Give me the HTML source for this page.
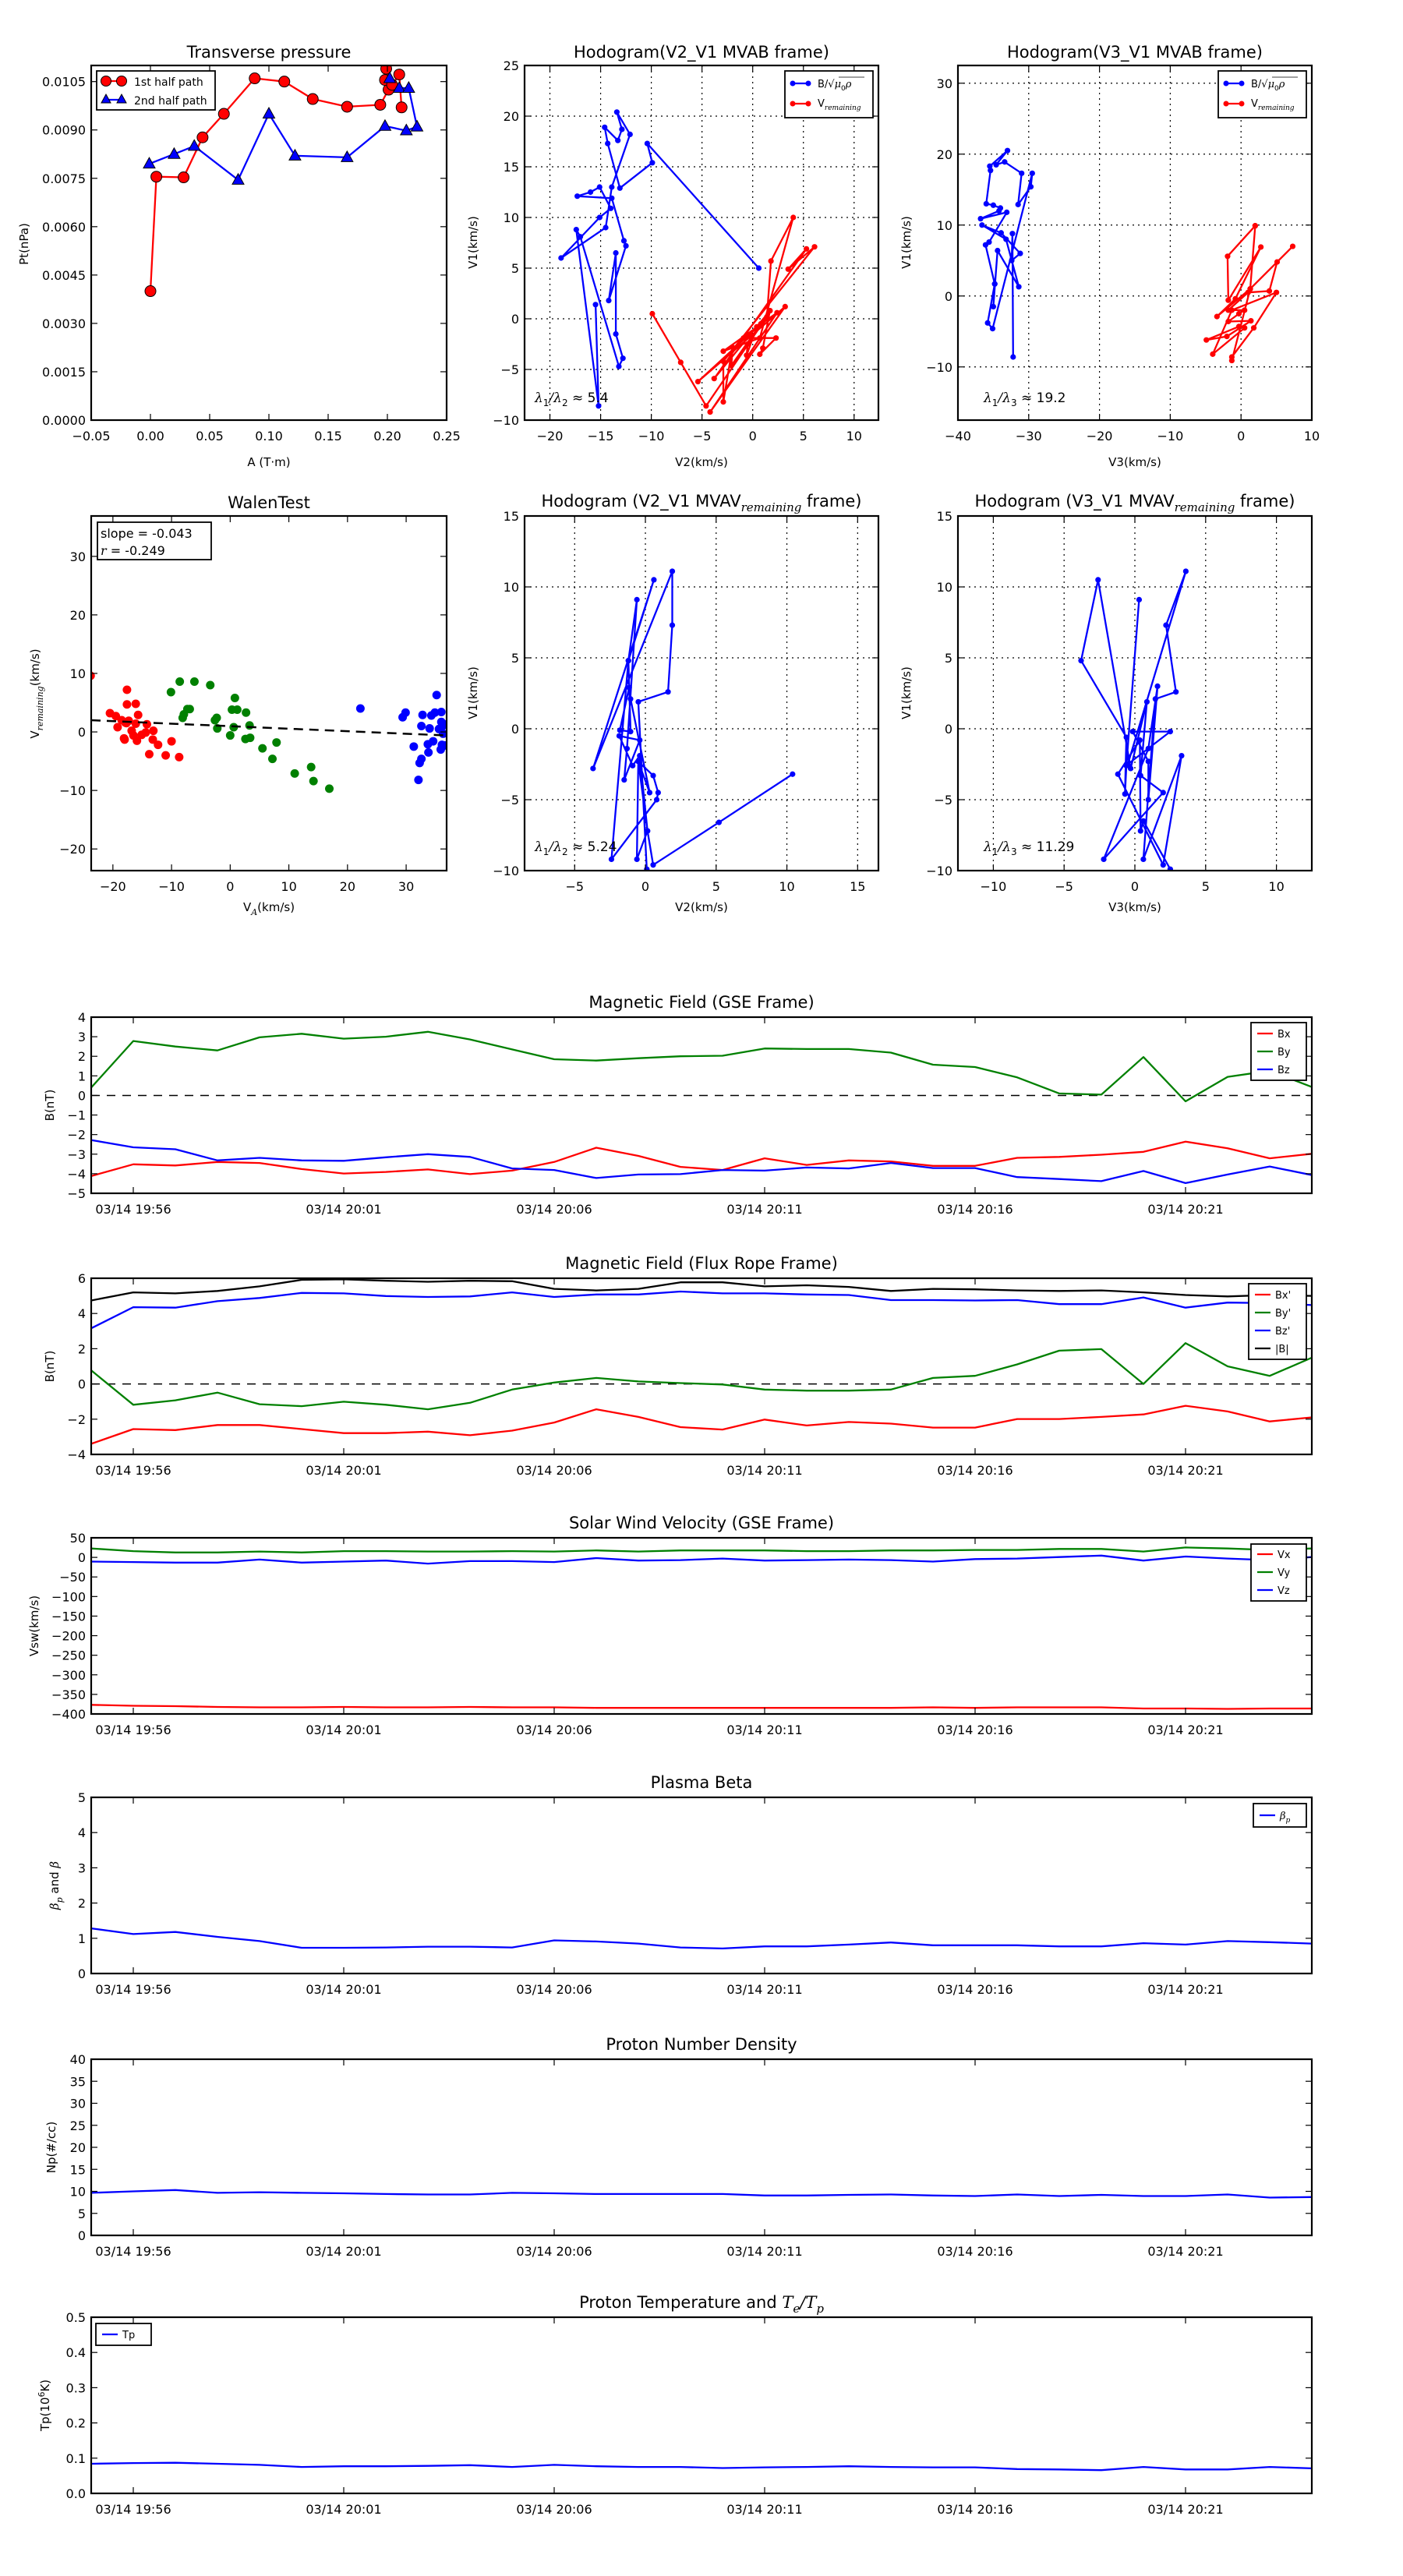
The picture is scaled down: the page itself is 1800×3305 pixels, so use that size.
<!DOCTYPE html>
<html><head><meta charset="utf-8"><style>
html,body{margin:0;padding:0;background:#fff}
svg text{font-family:"DejaVu Sans","Liberation Sans",sans-serif}
</style></head><body>
<svg id="fig" xmlns="http://www.w3.org/2000/svg" width="1800" height="3300" viewBox="0 0 1800 3300">
<rect x="0" y="0" width="1800" height="3300" fill="#fff"/>
</svg>
<script>
// ---------- DATA ----------
const tpA1 = [0,0.005,0.028,0.044,0.062,0.088,0.113,0.137,0.166,0.194,0.201,0.198,0.199,0.204,0.210,0.212];
const tpP1 = [0.0040,0.00755,0.00753,0.00877,0.0095,0.0106,0.0105,0.00996,0.00972,0.00978,0.01025,0.01055,0.0109,0.0104,0.01072,0.0097];
const tpA2 = [0.202,0.210,0.218,0.225,0.216,0.198,0.166,0.122,0.100,0.074,0.037,0.020,-0.001];
const tpP2 = [0.0106,0.0103,0.0103,0.0091,0.00898,0.00912,0.00815,0.0082,0.0095,0.00745,0.0085,0.00825,0.00795];

const h1Bx = [0.6,-10.4,-9.9,-13.1,-14.3,-14.6,-13.3,-12.9,-13.4,-12.1,-13.9,-14.5,-18.9,-15.1,-14.0,-15.1,-16.0,-17.3,-13.9,-12.7,-12.5,-14.2,-13.5,-13.5,-12.8,-13.2,-17.0,-17.4,-15.2,-15.5];
const h1By = [5.0,17.3,15.4,12.9,17.3,18.9,17.6,18.7,20.4,18.2,13.0,9.0,6.0,10.0,10.9,13.0,12.5,12.1,11.9,7.7,7.2,1.8,6.5,-1.5,-3.9,-4.7,8.1,8.8,-8.6,1.4];
const h1Vx = [-9.9,-7.1,-4.6,1.4,1.8,4.0,0.7,-2.9,2.4,-4.2,3.2,-5.4,0.8,-2.1,-2.0,-2.9,-2.9,6.1,3.5,5.3,-3.8,1.7,-0.5,-0.6,0.4,-0.9,2.3,0.7,1.0,1.7];
const h1Vy = [0.5,-4.3,-8.6,0.2,5.7,10.0,-1.9,-3.2,0.6,-9.2,1.2,-6.2,-0.5,-4.6,-2.8,-8.2,-4.2,7.1,4.9,6.9,-5.9,0.8,-2.5,-3.6,-0.8,-1.9,-1.9,-3.5,-2.9,0.8];

const h2Bx = [-32.2,-32.3,-32.4,-31.2,-33.9,-36.6,-33.2,-31.4,-34.4,-35.0,-34.8,-36.1,-35.6,-33.1,-36.8,-34.2,-34.0,-35.0,-36.0,-35.4,-35.5,-33.0,-34.6,-33.4,-31.0,-31.5,-29.7,-29.5,-35.1,-35.8,-34.8];
const h2By = [-8.6,8.8,5.0,6.0,8.9,10.0,8.0,1.3,6.4,-1.5,1.7,7.2,7.6,11.8,10.9,12.0,12.4,12.8,13.0,17.7,18.3,20.5,18.5,18.9,17.3,12.9,15.4,17.3,-4.6,-3.8,1.7];
const h2Vx = [2.0,-1.9,-1.8,2.8,-0.8,-3.4,1.3,7.3,5.1,4.0,1.0,-1.8,0.5,-0.3,-1.8,1.4,-2.0,-4.9,-0.3,0.5,-4.0,-1.3,5.0,1.8,-1.3,-1.3,1.3,2.0];
const h2Vy = [9.9,5.6,-0.6,6.9,-0.4,-2.9,1.0,7.0,4.8,0.7,0.5,-2.0,-2.0,-2.5,-3.6,-3.5,-5.7,-6.2,-4.3,-4.5,-8.2,-2.0,0.5,-4.5,-8.6,-9.1,1.0,9.9];

const wRx = [-23.8,-20.5,-19.5,-19.2,-18.5,-17.9,-17.3,-17.7,-17.6,-17.6,-18.1,-18.0,-16.8,-16.1,-16.1,-15.7,-16.5,-15.9,-15.1,-14.4,-14.2,-13.8,-13.1,-13.2,-12.3,-11.0,-10.0,-8.7];
const wRy = [9.6,3.2,2.7,0.8,2.0,1.6,1.9,1.5,7.2,4.7,-1.1,-1.3,0.2,4.8,1.4,2.9,-0.6,-1.5,-0.5,-0.1,1.3,-3.8,0.2,-1.3,-2.2,-4.0,-1.6,-4.3];
const wGx = [-10.1,-8.6,-8.1,-7.9,-7.3,-6.9,-6.1,-3.4,-2.6,-2.3,-2.2,0.0,0.3,0.6,0.8,1.2,2.6,2.7,3.3,3.4,5.5,7.2,7.9,11.0,13.8,14.2,16.9];
const wGy = [6.8,8.6,2.4,3.0,3.9,3.9,8.6,8.0,2.0,2.4,0.6,-0.6,3.8,0.8,5.8,3.8,-1.2,3.3,1.1,-1.0,-2.8,-4.6,-1.8,-7.1,-6.0,-8.4,-9.7];
const wBx = [22.2,29.4,29.9,31.3,32.1,32.3,32.6,32.6,32.8,33.7,33.8,34.0,34.3,34.6,34.9,35.2,35.6,36.0,36.0,35.9,36.1,36.2,36.3,36.5,36.6];
const wBy = [4.0,2.5,3.3,-2.5,-8.2,-5.3,-4.6,1.0,2.9,-2.1,-3.5,0.6,2.8,-1.6,3.3,6.3,0.5,3.4,1.7,-3.0,-2.2,1.0,-0.3,1.3,-2.3];
const wSlope = -0.043;
const wIntercept = 0.98;

const h3x = [10.4,5.2,0.55,0.15,-0.5,0.3,-1.05,-1.15,-1.8,-1.05,-1.2,-0.6,-1.3,-1.5,-0.4,-1.85,-0.9,-0.4,0.15,-0.6,-0.5,0.55,0.9,0.8,-2.4,-1.2,0.6,-3.7,1.9,1.9,1.6,-0.5,0.1];
const h3y = [-3.2,-6.6,-9.6,-7.2,-2.3,-4.5,2.1,2.9,-0.1,-0.2,4.8,9.1,-1.4,-3.6,-0.8,-0.5,-2.6,-1.9,-7.2,-9.2,-2.3,-3.3,-4.5,-5.0,-9.2,4.8,10.5,-2.8,11.1,7.3,2.6,1.9,-9.9];
const h4x = [0.3,-0.6,-0.7,-0.6,-3.8,-2.6,-0.3,0.85,0.4,2.0,-2.2,0.95,1.6,0.95,0.95,-0.15,2.5,-0.5,3.6,2.2,2.9,1.45,0.6,3.3,2.0,-1.2,0.35,0.4,0.6,2.5];
const h4y = [9.1,-2.6,-4.6,-0.6,4.8,10.5,-2.8,1.9,-3.3,-4.5,-9.2,-1.4,3.0,-5.0,-2.3,-0.2,-0.2,-2.5,11.1,7.3,2.6,2.1,-9.2,-1.9,-9.6,-3.2,-0.8,-7.2,-6.5,-9.9];

const timeTickIdx = [1,6,11,16,21,26];
const timeTickLabels = ['03/14 19:56','03/14 20:01','03/14 20:06','03/14 20:11','03/14 20:16','03/14 20:21'];
const gseBx = [-4.12,-3.52,-3.58,-3.4,-3.45,-3.76,-3.99,-3.91,-3.78,-4.02,-3.84,-3.4,-2.67,-3.09,-3.65,-3.81,-3.21,-3.55,-3.32,-3.37,-3.6,-3.6,-3.19,-3.14,-3.03,-2.88,-2.36,-2.7,-3.21,-2.98];
const gseBy = [0.4,2.78,2.5,2.3,2.97,3.15,2.9,3.0,3.25,2.86,2.35,1.85,1.78,1.9,2.0,2.03,2.4,2.37,2.37,2.19,1.57,1.45,0.92,0.1,0.04,1.96,-0.3,0.95,1.26,0.43];
const gseBz = [-2.28,-2.65,-2.75,-3.32,-3.19,-3.32,-3.34,-3.16,-3.0,-3.14,-3.73,-3.81,-4.22,-4.04,-4.02,-3.81,-3.84,-3.68,-3.73,-3.45,-3.71,-3.71,-4.17,-4.27,-4.38,-3.86,-4.48,-4.04,-3.63,-4.07];
const frBx = [-3.4,-2.56,-2.62,-2.33,-2.33,-2.56,-2.79,-2.79,-2.71,-2.91,-2.65,-2.19,-1.44,-1.87,-2.45,-2.59,-2.02,-2.36,-2.16,-2.25,-2.48,-2.48,-1.99,-1.99,-1.87,-1.73,-1.24,-1.56,-2.13,-1.9];
const frBy = [0.77,-1.18,-0.93,-0.49,-1.15,-1.26,-1.01,-1.18,-1.44,-1.07,-0.32,0.08,0.34,0.14,0.05,-0.03,-0.32,-0.38,-0.38,-0.32,0.34,0.46,1.11,1.89,1.98,0.0,2.32,1.0,0.46,1.49];
const frBz = [3.16,4.36,4.33,4.7,4.88,5.17,5.14,4.99,4.94,4.97,5.2,4.94,5.08,5.08,5.25,5.14,5.14,5.08,5.05,4.76,4.76,4.74,4.76,4.53,4.53,4.91,4.33,4.62,4.59,4.48];
const frBt = [4.74,5.2,5.14,5.28,5.54,5.91,5.94,5.86,5.8,5.86,5.83,5.4,5.31,5.4,5.77,5.77,5.54,5.6,5.51,5.28,5.4,5.37,5.31,5.28,5.31,5.2,5.05,4.97,5.05,5.0];
const vx = [-376.7,-379,-380,-382,-383,-383,-382,-383,-383,-382,-383,-383,-384.5,-384.5,-384.5,-384.5,-384.5,-384.5,-384.5,-384.5,-383,-384.5,-383,-383,-383,-386,-386,-387,-386,-386];
const vy = [22.8,16,12.5,12.5,15,12.5,16,16,15,15,16,15,17.7,15,17.7,17.7,17.7,16,16,17.7,17.7,19,19,21.5,21.5,15,25.4,22.8,19,22.8];
const vz = [-10.8,-12,-13.4,-13.4,-5.6,-13.4,-10.8,-8.2,-16,-9.5,-9.5,-12,-1.7,-8.2,-6.9,-3,-8.2,-6.9,-5.6,-6.9,-10.8,-4.3,-3,0.9,4.7,-8.2,2.2,-3,-6.9,0.9];
const beta = [1.28,1.12,1.18,1.04,0.92,0.73,0.73,0.74,0.76,0.76,0.74,0.94,0.91,0.85,0.74,0.71,0.77,0.77,0.82,0.88,0.8,0.8,0.8,0.77,0.77,0.86,0.82,0.92,0.89,0.85];
const np = [9.67,10.0,10.3,9.67,9.8,9.67,9.55,9.4,9.3,9.3,9.67,9.55,9.4,9.4,9.4,9.4,9.06,9.06,9.2,9.3,9.06,8.94,9.3,8.94,9.2,8.94,8.94,9.3,8.58,8.7];
const tp = [0.084,0.086,0.087,0.084,0.081,0.075,0.077,0.077,0.078,0.08,0.075,0.081,0.077,0.075,0.075,0.072,0.074,0.075,0.077,0.075,0.074,0.074,0.069,0.068,0.066,0.075,0.068,0.068,0.075,0.071];

// ---------- HELPERS ----------
const NS='http://www.w3.org/2000/svg';
const svg=document.getElementById('fig');
let clipN=0;
function mk(tag, attrs, name, parent){
  const el=document.createElementNS(NS,tag);
  for(const k in attrs) el.setAttribute(k,attrs[k]);
  
  
  (parent||svg).appendChild(el);
  return el;
}
function txt(x,y,s,size,name,parent,anchor,extra){
  const a={x:x,y:y,'font-size':size,'text-anchor':anchor||'middle',fill:'#000'};
  if(extra) for(const k in extra) a[k]=extra[k];
  const t=mk('text',a,name,parent);
  t.textContent=s;
  return t;
}
function rich(x,y,parts,size,name,parent,anchor,extra){
  const a={x:x,y:y,'font-size':size,'text-anchor':anchor||'middle',fill:'#000'};
  if(extra) for(const k in extra) a[k]=extra[k];
  const t=mk('text',a,name,parent);
  let cur=0;
  parts.forEach(p=>{
    const ts=document.createElementNS(NS,'tspan');
    let target=0;
    if(p.sub){target=Math.round(size*0.3);ts.setAttribute('font-size',Math.round(size*0.7));}
    if(p.sup){target=-Math.round(size*0.4);ts.setAttribute('font-size',Math.round(size*0.7));}
    if(target!==cur){ts.setAttribute('dy',target-cur);cur=target;}
    if(p.it){ts.setAttribute('font-style','italic');ts.setAttribute('font-family','"DejaVu Serif","Liberation Serif",serif');}
    ts.textContent=p.t;
    t.appendChild(ts);
  });
  return t;
}
function fmtMinus(s){return String(s).replace('-','\u2212');}
function axes(c){
  const g=mk('g',{},c.name);
  const sx=v=>c.x+(v-c.xmin)/(c.xmax-c.xmin)*c.w;
  const sy=v=>c.y+c.h-(v-c.ymin)/(c.ymax-c.ymin)*c.h;
  clipN++;
  const cp=mk('clipPath',{id:'cp'+clipN},'clip-region',g);
  mk('rect',{x:c.x,y:c.y,width:c.w,height:c.h},'clip-rect',cp);
  if(c.grid){
    c.xt.forEach(v=>{mk('line',{x1:sx(v),x2:sx(v),y1:c.y,y2:c.y+c.h,stroke:'#000','stroke-width':1.2,'stroke-dasharray':'2,5'},'x-gridline',g);});
    c.yt.forEach(v=>{mk('line',{x1:c.x,x2:c.x+c.w,y1:sy(v),y2:sy(v),stroke:'#000','stroke-width':1.2,'stroke-dasharray':'2,5'},'y-gridline',g);});
  }
  const data=mk('g',{'clip-path':'url(#cp'+clipN+')'},'plot-area',g);
  const finish=()=>{
    const fg=mk('g',{},'axes-frame-group',g);
    c.xt.forEach((v,i)=>{
      const X=sx(v);
      mk('line',{x1:X,x2:X,y1:c.y+c.h,y2:c.y+c.h-8,stroke:'#000','stroke-width':1.2},'x-tick',fg);
      mk('line',{x1:X,x2:X,y1:c.y,y2:c.y+8,stroke:'#000','stroke-width':1.2},'x-tick',fg);
      txt(X,c.y+c.h+26,c.xl[i],16,'x-tick-label',fg);
    });
    c.yt.forEach((v,i)=>{
      mk('line',{x1:c.x,x2:c.x+8,y1:sy(v),y2:sy(v),stroke:'#000','stroke-width':1.2},'y-tick',fg);
      mk('line',{x1:c.x+c.w,x2:c.x+c.w-8,y1:sy(v),y2:sy(v),stroke:'#000','stroke-width':1.2},'y-tick',fg);
      txt(c.x-7,sy(v)+6,c.yl[i],16,'y-tick-label',fg,'end');
    });
    mk('rect',{x:c.x,y:c.y,width:c.w,height:c.h,fill:'none',stroke:'#000','stroke-width':2.2},'axes-frame',fg);
  };
  return {sx,sy,g,data,finish,c};
}
function path(ax,xs,ys,color,name,w){
  let d='';
  xs.forEach((v,i)=>{d+=(i?'L':'M')+ax.sx(v).toFixed(1)+','+ax.sy(ys[i]).toFixed(1);});
  return mk('path',{d:d,fill:'none',stroke:color,'stroke-width':w||2.3,'stroke-linejoin':'round'},name,ax.data);
}
function dots(ax,xs,ys,color,r,name){
  xs.forEach((v,i)=>{mk('circle',{cx:ax.sx(v),cy:ax.sy(ys[i]),r:r,fill:color},name,ax.data);});
}
function rng(a,b,s){const o=[];for(let v=a;v<=b+1e-9;v+=s)o.push(Math.round(v*1e6)/1e6);return o;}

// ---------- TRANSVERSE PRESSURE ----------
(function(){
  const xt=rng(-0.05,0.25,0.05), yt=rng(0,0.0105,0.0015);
  const ax=axes({name:'transverse-pressure-chart',x:117,y:84,w:456,h:455,xmin:-0.05,xmax:0.25,ymin:0,ymax:0.011,
    xt:xt,yt:yt,xl:xt.map(v=>fmtMinus(v.toFixed(2))),yl:yt.map(v=>v.toFixed(4))});
  path(ax,tpA1,tpP1,'#ff0000','first-half-path-line',2.3);
  path(ax,tpA2,tpP2,'#0000ff','second-half-path-line',2.3);
  tpA1.forEach((v,i)=>{mk('circle',{cx:ax.sx(v),cy:ax.sy(tpP1[i]),r:7,fill:'#ff0000',stroke:'#000','stroke-width':1},'first-half-marker',ax.data);});
  tpA2.forEach((v,i)=>{const X=ax.sx(v),Y=ax.sy(tpP2[i]);mk('polygon',{points:`${X},${Y-8} ${X-7.5},${Y+5.5} ${X+7.5},${Y+5.5}`,fill:'#0000ff',stroke:'#000','stroke-width':1},'second-half-marker',ax.data);});
  ax.finish();
  const lg=mk('g',{},'legend',ax.g);
  mk('rect',{x:124,y:91,width:152,height:50,fill:'#fff',stroke:'#000','stroke-width':1.8},'legend-box',lg);
  mk('line',{x1:136,x2:156,y1:104,y2:104,stroke:'#ff0000','stroke-width':2.3},'legend-line',lg);
  mk('circle',{cx:136,cy:104,r:6.5,fill:'#ff0000',stroke:'#000','stroke-width':1},'legend-marker',lg);
  mk('circle',{cx:156,cy:104,r:6.5,fill:'#ff0000',stroke:'#000','stroke-width':1},'legend-marker',lg);
  txt(172,110,'1st half path',14,'legend-entry-1st',lg,'start');
  mk('line',{x1:136,x2:156,y1:128,y2:128,stroke:'#0000ff','stroke-width':2.3},'legend-line',lg);
  mk('polygon',{points:'136,121 130,132 142,132',fill:'#0000ff',stroke:'#000','stroke-width':1},'legend-marker',lg);
  mk('polygon',{points:'156,121 150,132 162,132',fill:'#0000ff',stroke:'#000','stroke-width':1},'legend-marker',lg);
  txt(172,134,'2nd half path',14,'legend-entry-2nd',lg,'start');
  txt(345,74,'Transverse pressure',21,'chart-title',ax.g);
  txt(345,598,'A (T\u00b7m)',15,'x-axis-title',ax.g);
  txt(36,313,'Pt(nPa)',15,'y-axis-title',ax.g,'middle',{transform:'rotate(-90 36 313)'});
})();

function hodoLegend(g,x){
  const lg=mk('g',{},'legend',g);
  mk('rect',{x:x,y:91,width:113,height:60,fill:'#fff',stroke:'#000','stroke-width':1.8},'legend-box',lg);
  mk('line',{x1:x+10,x2:x+30,y1:107,y2:107,stroke:'#0000ff','stroke-width':2.3},'legend-line',lg);
  mk('circle',{cx:x+10,cy:107,r:3.5,fill:'#0000ff'},'legend-marker',lg);
  mk('circle',{cx:x+30,cy:107,r:3.5,fill:'#0000ff'},'legend-marker',lg);
  rich(x+42,112,[{t:'B/\u221a'},{t:'\u03bc',it:1},{t:'0',sub:1},{t:'\u03c1',it:1}],13,'legend-entry-b',lg,'start');
  mk('line',{x1:x+69,x2:x+102,y1:99,y2:99,stroke:'#000','stroke-width':0.8},'sqrt-bar',lg);
  mk('line',{x1:x+10,x2:x+30,y1:133,y2:133,stroke:'#ff0000','stroke-width':2.3},'legend-line',lg);
  mk('circle',{cx:x+10,cy:133,r:3.5,fill:'#ff0000'},'legend-marker',lg);
  mk('circle',{cx:x+30,cy:133,r:3.5,fill:'#ff0000'},'legend-marker',lg);
  rich(x+42,137,[{t:'V'},{t:'remaining',it:1,sub:1}],13,'legend-entry-v',lg,'start');
}
const lam=(a,b,v)=>[{t:'\u03bb',it:1},{t:a,sub:1},{t:'/',it:1},{t:'\u03bb',it:1},{t:b,sub:1},{t:' \u2248 '+v}];

// ---------- HODOGRAM V2_V1 MVAB ----------
(function(){
  const xt=rng(-20,10,5), yt=rng(-10,25,5);
  const ax=axes({name:'hodogram-v2v1-mvab',x:673,y:84,w:454,h:455,xmin:-22.5,xmax:12.4,ymin:-10,ymax:25,grid:1,
    xt:xt,yt:yt,xl:xt.map(fmtMinus),yl:yt.map(fmtMinus)});
  path(ax,h1Bx,h1By,'#0000ff','b-series-line');dots(ax,h1Bx,h1By,'#0000ff',3.6,'b-series-point');
  path(ax,h1Vx,h1Vy,'#ff0000','v-series-line');dots(ax,h1Vx,h1Vy,'#ff0000',3.6,'v-series-point');
  ax.finish();
  hodoLegend(ax.g,1007);
  rich(686,516,lam('1','2','5.4'),17,'eigenvalue-ratio',ax.g,'start');
  txt(900,74,'Hodogram(V2_V1 MVAB frame)',21,'chart-title',ax.g);
  txt(900,598,'V2(km/s)',15,'x-axis-title',ax.g);
  txt(612,311,'V1(km/s)',15,'y-axis-title',ax.g,'middle',{transform:'rotate(-90 612 311)'});
})();

// ---------- HODOGRAM V3_V1 MVAB ----------
(function(){
  const xt=rng(-40,10,10), yt=rng(-10,30,10);
  const ax=axes({name:'hodogram-v3v1-mvab',x:1229,y:84,w:454,h:455,xmin:-40,xmax:10,ymin:-17.5,ymax:32.5,grid:1,
    xt:xt,yt:yt,xl:xt.map(fmtMinus),yl:yt.map(fmtMinus)});
  path(ax,h2Bx,h2By,'#0000ff','b-series-line');dots(ax,h2Bx,h2By,'#0000ff',3.6,'b-series-point');
  path(ax,h2Vx,h2Vy,'#ff0000','v-series-line');dots(ax,h2Vx,h2Vy,'#ff0000',3.6,'v-series-point');
  ax.finish();
  hodoLegend(ax.g,1563);
  rich(1262,516,lam('1','3','19.2'),17,'eigenvalue-ratio',ax.g,'start');
  txt(1456,74,'Hodogram(V3_V1 MVAB frame)',21,'chart-title',ax.g);
  txt(1456,598,'V3(km/s)',15,'x-axis-title',ax.g);
  txt(1168,311,'V1(km/s)',15,'y-axis-title',ax.g,'middle',{transform:'rotate(-90 1168 311)'});
})();

// ---------- WALEN TEST ----------
(function(){
  const xt=rng(-20,30,10), yt=rng(-20,30,10);
  const ax=axes({name:'walen-test-chart',x:117,y:662,w:456,h:455,xmin:-23.7,xmax:36.9,ymin:-23.7,ymax:36.9,
    xt:xt,yt:yt,xl:xt.map(fmtMinus),yl:yt.map(fmtMinus)});
  dots(ax,wRx,wRy,'#ff0000',5.5,'walen-point-red');
  dots(ax,wGx,wGy,'#008000',5.5,'walen-point-green');
  dots(ax,wBx,wBy,'#0000ff',5.5,'walen-point-blue');
  mk('line',{x1:ax.sx(-23.7),y1:ax.sy(wIntercept+wSlope*-23.7),x2:ax.sx(36.9),y2:ax.sy(wIntercept+wSlope*36.9),stroke:'#000','stroke-width':2.5,'stroke-dasharray':'12,8'},'fit-line',ax.data);
  ax.finish();
  const box=mk('g',{},'fit-annotation',ax.g);
  mk('rect',{x:125,y:670,width:146,height:48,fill:'#fff',stroke:'#000','stroke-width':1.8},'annotation-box',box);
  txt(129,690,'slope = -0.043',16,'slope-text',box,'start');
  rich(129,712,[{t:'r',it:1},{t:' = -0.249'}],16,'r-text',box,'start');
  txt(345,652,'WalenTest',21,'chart-title',ax.g);
  rich(345,1169,[{t:'V'},{t:'A',it:1,sub:1},{t:'(km/s)'}],15,'x-axis-title',ax.g);
  rich(50,890,[{t:'V'},{t:'remaining',it:1,sub:1},{t:'(km/s)'}],15,'y-axis-title',ax.g,'middle',{transform:'rotate(-90 50 890)'});
})();

// ---------- HODOGRAM MVAV V2 ----------
(function(){
  const xt=rng(-5,15,5), yt=rng(-10,15,5);
  const ax=axes({name:'hodogram-v2v1-mvav',x:673,y:662,w:454,h:455,xmin:-8.54,xmax:16.47,ymin:-10,ymax:15,grid:1,
    xt:xt,yt:yt,xl:xt.map(fmtMinus),yl:yt.map(fmtMinus)});
  path(ax,h3x,h3y,'#0000ff','hodogram-line');dots(ax,h3x,h3y,'#0000ff',3.6,'hodogram-point');
  ax.finish();
  rich(686,1092,lam('1','2','5.24'),17,'eigenvalue-ratio',ax.g,'start');
  rich(900,650,[{t:'Hodogram (V2_V1 MVAV'},{t:'remaining',it:1,sub:1},{t:' frame)'}],21,'chart-title',ax.g);
  txt(900,1169,'V2(km/s)',15,'x-axis-title',ax.g);
  txt(612,889,'V1(km/s)',15,'y-axis-title',ax.g,'middle',{transform:'rotate(-90 612 889)'});
})();

// ---------- HODOGRAM MVAV V3 ----------
(function(){
  const xt=rng(-10,10,5), yt=rng(-10,15,5);
  const ax=axes({name:'hodogram-v3v1-mvav',x:1229,y:662,w:454,h:455,xmin:-12.5,xmax:12.5,ymin:-10,ymax:15,grid:1,
    xt:xt,yt:yt,xl:xt.map(fmtMinus),yl:yt.map(fmtMinus)});
  path(ax,h4x,h4y,'#0000ff','hodogram-line');dots(ax,h4x,h4y,'#0000ff',3.6,'hodogram-point');
  ax.finish();
  rich(1262,1092,lam('1','3','11.29'),17,'eigenvalue-ratio',ax.g,'start');
  rich(1456,650,[{t:'Hodogram (V3_V1 MVAV'},{t:'remaining',it:1,sub:1},{t:' frame)'}],21,'chart-title',ax.g);
  txt(1456,1169,'V3(km/s)',15,'x-axis-title',ax.g);
  txt(1168,889,'V1(km/s)',15,'y-axis-title',ax.g,'middle',{transform:'rotate(-90 1168 889)'});
})();

// ---------- TIME SERIES ----------
function tsPanel(o){
  const ax=axes({name:o.name,x:117,y:o.y,w:1566,h:226,xmin:0,xmax:29,ymin:o.ymin,ymax:o.ymax,
    xt:timeTickIdx,yt:o.yt,xl:timeTickLabels,yl:o.ytl||o.yt.map(fmtMinus)});
  if(o.zero) mk('line',{x1:117,x2:1683,y1:ax.sy(0),y2:ax.sy(0),stroke:'#000','stroke-width':1.5,'stroke-dasharray':'11,9'},'zero-line',ax.data);
  o.series.forEach(s=>{path(ax,s.v.map((_,i)=>i),s.v,s.c,s.n,2.3);});
  if(o.leg){
    const L=o.leg, lg=mk('g',{},'legend',ax.g);
    mk('rect',{x:L.x,y:L.y,width:L.w,height:L.h,fill:'#fff',stroke:'#000','stroke-width':1.8},'legend-box',lg);
    L.items.forEach((it,k)=>{
      const yy=L.y+L.first+k*L.step;
      mk('line',{x1:L.x+8,x2:L.x+28,y1:yy,y2:yy,stroke:it.c,'stroke-width':2.3},'legend-line',lg);
      if(it.parts) rich(L.x+34,yy+5,it.parts,13,'legend-entry',lg,'start');
      else txt(L.x+34,yy+5,it.t,13,'legend-entry',lg,'start');
    });
  }
  ax.finish();
  if(o.titleParts) rich(900,o.y-12,o.titleParts,21,'chart-title',ax.g);
  else txt(900,o.y-12,o.title,21,'chart-title',ax.g);
  const lx=o.lx, ly=o.y+113;
  if(o.ylParts) rich(lx,ly+5,o.ylParts,15,'y-axis-title',ax.g,'middle',{transform:`rotate(-90 ${lx} ${ly})`});
  else txt(lx,ly+5,o.yl,15,'y-axis-title',ax.g,'middle',{transform:`rotate(-90 ${lx} ${ly})`});
}
tsPanel({name:'magnetic-field-gse-chart',y:1305,ymin:-5,ymax:4,yt:rng(-5,4,1),zero:1,title:'Magnetic Field (GSE Frame)',yl:'B(nT)',lx:64,
  series:[{v:gseBy,c:'#008000',n:'by-line'},{v:gseBx,c:'#ff0000',n:'bx-line'},{v:gseBz,c:'#0000ff',n:'bz-line'}],
  leg:{x:1605,y:1312,w:71,h:74,first:14,step:23,items:[{t:'Bx',c:'#ff0000'},{t:'By',c:'#008000'},{t:'Bz',c:'#0000ff'}]}});
tsPanel({name:'magnetic-field-flux-rope-chart',y:1640,ymin:-4,ymax:6,yt:rng(-4,6,2),zero:1,title:'Magnetic Field (Flux Rope Frame)',yl:'B(nT)',lx:64,
  series:[{v:frBt,c:'#000000',n:'b-magnitude-line'},{v:frBz,c:'#0000ff',n:'bz-prime-line'},{v:frBy,c:'#008000',n:'by-prime-line'},{v:frBx,c:'#ff0000',n:'bx-prime-line'}],
  leg:{x:1602,y:1647,w:74,h:97,first:14,step:23,items:[{t:"Bx'",c:'#ff0000'},{t:"By'",c:'#008000'},{t:"Bz'",c:'#0000ff'},{t:'|B|',c:'#000000'}]}});
tsPanel({name:'solar-wind-velocity-chart',y:1973,ymin:-400,ymax:50,yt:rng(-400,50,50),title:'Solar Wind Velocity (GSE Frame)',yl:'Vsw(km/s)',lx:44,
  series:[{v:vx,c:'#ff0000',n:'vx-line'},{v:vy,c:'#008000',n:'vy-line'},{v:vz,c:'#0000ff',n:'vz-line'}],
  leg:{x:1605,y:1981,w:71,h:73,first:13,step:23,items:[{t:'Vx',c:'#ff0000'},{t:'Vy',c:'#008000'},{t:'Vz',c:'#0000ff'}]}});
tsPanel({name:'plasma-beta-chart',y:2306,ymin:0,ymax:5,yt:rng(0,5,1),title:'Plasma Beta',ylParts:[{t:'\u03b2',it:1},{t:'p',it:1,sub:1},{t:' and '},{t:'\u03b2',it:1}],lx:70,
  series:[{v:beta,c:'#0000ff',n:'beta-line'}],
  leg:{x:1608,y:2314,w:68,h:30,first:15,step:23,items:[{parts:[{t:'\u03b2',it:1},{t:'p',it:1,sub:1}],c:'#0000ff'}]}});
tsPanel({name:'proton-density-chart',y:2642,ymin:0,ymax:40,yt:rng(0,40,5),title:'Proton Number Density',yl:'Np(#/cc)',lx:66,
  series:[{v:np,c:'#0000ff',n:'density-line'}]});
tsPanel({name:'proton-temperature-chart',y:2973,ymin:0,ymax:0.5,yt:[0,0.1,0.2,0.3,0.4,0.5],ytl:['0.0','0.1','0.2','0.3','0.4','0.5'],title:'',
  titleParts:[{t:'Proton Temperature and '},{t:'T',it:1},{t:'e',it:1,sub:1},{t:'/',it:1},{t:'T',it:1},{t:'p',it:1,sub:1}],
  ylParts:[{t:'Tp(10'},{t:'6',sup:1},{t:'K)'}],lx:58,
  series:[{v:tp,c:'#0000ff',n:'temperature-line'}],
  leg:{x:123,y:2981,w:71,h:28,first:14,step:23,items:[{t:'Tp',c:'#0000ff'}]}});
</script>
</body></html>
